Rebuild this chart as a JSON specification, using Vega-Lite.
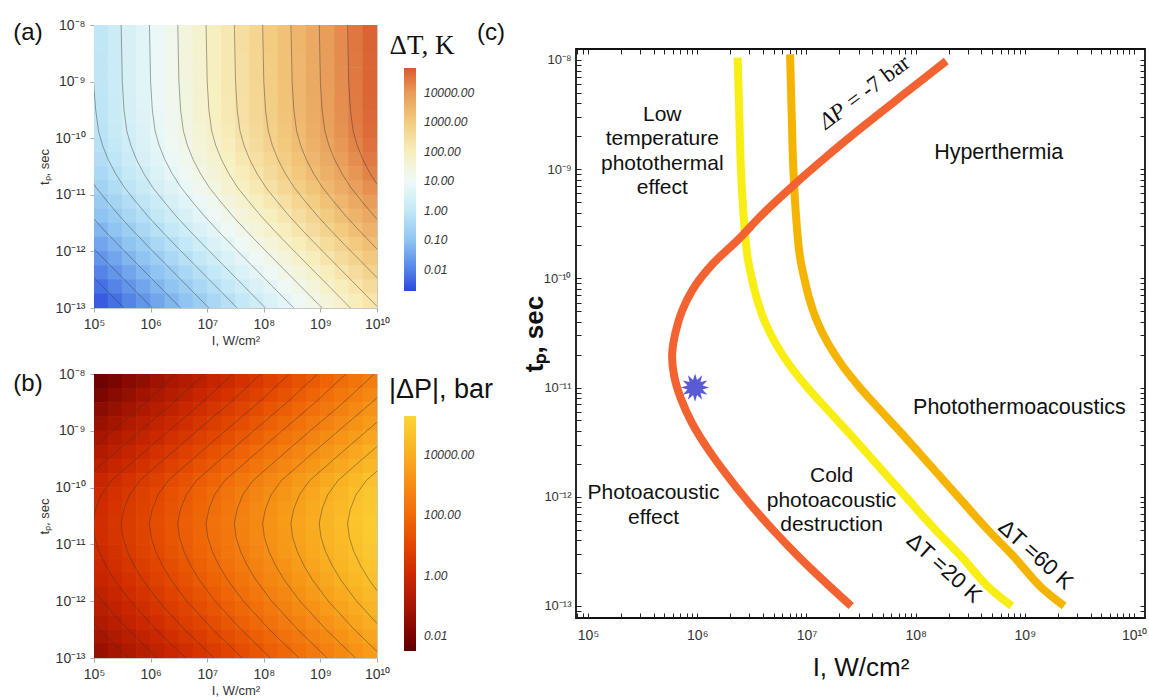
{
"$schema":"https://vega.github.io/schema/vega-lite/v6.json",
"padding":{"left":12,"top":17,"right":0,"bottom":0},
"spacing":14,
"config":{"font":"Liberation Sans","view":{"stroke":null},"axis":{"grid":false,"labelFont":"Liberation Sans","titleFont":"Liberation Sans","labelOverlap":false,"labelFlush":false,"labelBound":false}},
"datasets":{
"hT":[
{"x":5.125,"y":-8.125,"v":-0.035},{"x":5.375,"y":-8.125,"v":0.215},{"x":5.625,"y":-8.125,"v":0.465},{"x":5.875,"y":-8.125,"v":0.715},{"x":6.125,"y":-8.125,"v":0.965},{"x":6.375,"y":-8.125,"v":1.215},{"x":6.625,"y":-8.125,"v":1.465},{"x":6.875,"y":-8.125,"v":1.715},{"x":7.125,"y":-8.125,"v":1.965},{"x":7.375,"y":-8.125,"v":2.215},{"x":7.625,"y":-8.125,"v":2.465},{"x":7.875,"y":-8.125,"v":2.715},{"x":8.125,"y":-8.125,"v":2.965},{"x":8.375,"y":-8.125,"v":3.215},{"x":8.625,"y":-8.125,"v":3.465},{"x":8.875,"y":-8.125,"v":3.715},{"x":9.125,"y":-8.125,"v":3.965},{"x":9.375,"y":-8.125,"v":4.215},{"x":9.625,"y":-8.125,"v":4.465},{"x":9.875,"y":-8.125,"v":4.715},
{"x":5.125,"y":-8.375,"v":-0.035},{"x":5.375,"y":-8.375,"v":0.215},{"x":5.625,"y":-8.375,"v":0.465},{"x":5.875,"y":-8.375,"v":0.715},{"x":6.125,"y":-8.375,"v":0.965},{"x":6.375,"y":-8.375,"v":1.215},{"x":6.625,"y":-8.375,"v":1.465},{"x":6.875,"y":-8.375,"v":1.715},{"x":7.125,"y":-8.375,"v":1.965},{"x":7.375,"y":-8.375,"v":2.215},{"x":7.625,"y":-8.375,"v":2.465},{"x":7.875,"y":-8.375,"v":2.715},{"x":8.125,"y":-8.375,"v":2.965},{"x":8.375,"y":-8.375,"v":3.215},{"x":8.625,"y":-8.375,"v":3.465},{"x":8.875,"y":-8.375,"v":3.715},{"x":9.125,"y":-8.375,"v":3.965},{"x":9.375,"y":-8.375,"v":4.215},{"x":9.625,"y":-8.375,"v":4.465},{"x":9.875,"y":-8.375,"v":4.715},
{"x":5.125,"y":-8.625,"v":-0.045},{"x":5.375,"y":-8.625,"v":0.205},{"x":5.625,"y":-8.625,"v":0.455},{"x":5.875,"y":-8.625,"v":0.705},{"x":6.125,"y":-8.625,"v":0.955},{"x":6.375,"y":-8.625,"v":1.205},{"x":6.625,"y":-8.625,"v":1.455},{"x":6.875,"y":-8.625,"v":1.705},{"x":7.125,"y":-8.625,"v":1.955},{"x":7.375,"y":-8.625,"v":2.205},{"x":7.625,"y":-8.625,"v":2.455},{"x":7.875,"y":-8.625,"v":2.705},{"x":8.125,"y":-8.625,"v":2.955},{"x":8.375,"y":-8.625,"v":3.205},{"x":8.625,"y":-8.625,"v":3.455},{"x":8.875,"y":-8.625,"v":3.705},{"x":9.125,"y":-8.625,"v":3.955},{"x":9.375,"y":-8.625,"v":4.205},{"x":9.625,"y":-8.625,"v":4.455},{"x":9.875,"y":-8.625,"v":4.705},
{"x":5.125,"y":-8.875,"v":-0.045},{"x":5.375,"y":-8.875,"v":0.205},{"x":5.625,"y":-8.875,"v":0.455},{"x":5.875,"y":-8.875,"v":0.705},{"x":6.125,"y":-8.875,"v":0.955},{"x":6.375,"y":-8.875,"v":1.205},{"x":6.625,"y":-8.875,"v":1.455},{"x":6.875,"y":-8.875,"v":1.705},{"x":7.125,"y":-8.875,"v":1.955},{"x":7.375,"y":-8.875,"v":2.205},{"x":7.625,"y":-8.875,"v":2.455},{"x":7.875,"y":-8.875,"v":2.705},{"x":8.125,"y":-8.875,"v":2.955},{"x":8.375,"y":-8.875,"v":3.205},{"x":8.625,"y":-8.875,"v":3.455},{"x":8.875,"y":-8.875,"v":3.705},{"x":9.125,"y":-8.875,"v":3.955},{"x":9.375,"y":-8.875,"v":4.205},{"x":9.625,"y":-8.875,"v":4.455},{"x":9.875,"y":-8.875,"v":4.705},
{"x":5.125,"y":-9.125,"v":-0.055},{"x":5.375,"y":-9.125,"v":0.195},{"x":5.625,"y":-9.125,"v":0.445},{"x":5.875,"y":-9.125,"v":0.695},{"x":6.125,"y":-9.125,"v":0.945},{"x":6.375,"y":-9.125,"v":1.195},{"x":6.625,"y":-9.125,"v":1.445},{"x":6.875,"y":-9.125,"v":1.695},{"x":7.125,"y":-9.125,"v":1.945},{"x":7.375,"y":-9.125,"v":2.195},{"x":7.625,"y":-9.125,"v":2.445},{"x":7.875,"y":-9.125,"v":2.695},{"x":8.125,"y":-9.125,"v":2.945},{"x":8.375,"y":-9.125,"v":3.195},{"x":8.625,"y":-9.125,"v":3.445},{"x":8.875,"y":-9.125,"v":3.695},{"x":9.125,"y":-9.125,"v":3.945},{"x":9.375,"y":-9.125,"v":4.195},{"x":9.625,"y":-9.125,"v":4.445},{"x":9.875,"y":-9.125,"v":4.695},
{"x":5.125,"y":-9.375,"v":-0.075},{"x":5.375,"y":-9.375,"v":0.175},{"x":5.625,"y":-9.375,"v":0.425},{"x":5.875,"y":-9.375,"v":0.675},{"x":6.125,"y":-9.375,"v":0.925},{"x":6.375,"y":-9.375,"v":1.175},{"x":6.625,"y":-9.375,"v":1.425},{"x":6.875,"y":-9.375,"v":1.675},{"x":7.125,"y":-9.375,"v":1.925},{"x":7.375,"y":-9.375,"v":2.175},{"x":7.625,"y":-9.375,"v":2.425},{"x":7.875,"y":-9.375,"v":2.675},{"x":8.125,"y":-9.375,"v":2.925},{"x":8.375,"y":-9.375,"v":3.175},{"x":8.625,"y":-9.375,"v":3.425},{"x":8.875,"y":-9.375,"v":3.675},{"x":9.125,"y":-9.375,"v":3.925},{"x":9.375,"y":-9.375,"v":4.175},{"x":9.625,"y":-9.375,"v":4.425},{"x":9.875,"y":-9.375,"v":4.675},
{"x":5.125,"y":-9.625,"v":-0.095},{"x":5.375,"y":-9.625,"v":0.155},{"x":5.625,"y":-9.625,"v":0.405},{"x":5.875,"y":-9.625,"v":0.655},{"x":6.125,"y":-9.625,"v":0.905},{"x":6.375,"y":-9.625,"v":1.155},{"x":6.625,"y":-9.625,"v":1.405},{"x":6.875,"y":-9.625,"v":1.655},{"x":7.125,"y":-9.625,"v":1.905},{"x":7.375,"y":-9.625,"v":2.155},{"x":7.625,"y":-9.625,"v":2.405},{"x":7.875,"y":-9.625,"v":2.655},{"x":8.125,"y":-9.625,"v":2.905},{"x":8.375,"y":-9.625,"v":3.155},{"x":8.625,"y":-9.625,"v":3.405},{"x":8.875,"y":-9.625,"v":3.655},{"x":9.125,"y":-9.625,"v":3.905},{"x":9.375,"y":-9.625,"v":4.155},{"x":9.625,"y":-9.625,"v":4.405},{"x":9.875,"y":-9.625,"v":4.655},
{"x":5.125,"y":-9.875,"v":-0.135},{"x":5.375,"y":-9.875,"v":0.115},{"x":5.625,"y":-9.875,"v":0.365},{"x":5.875,"y":-9.875,"v":0.615},{"x":6.125,"y":-9.875,"v":0.865},{"x":6.375,"y":-9.875,"v":1.115},{"x":6.625,"y":-9.875,"v":1.365},{"x":6.875,"y":-9.875,"v":1.615},{"x":7.125,"y":-9.875,"v":1.865},{"x":7.375,"y":-9.875,"v":2.115},{"x":7.625,"y":-9.875,"v":2.365},{"x":7.875,"y":-9.875,"v":2.615},{"x":8.125,"y":-9.875,"v":2.865},{"x":8.375,"y":-9.875,"v":3.115},{"x":8.625,"y":-9.875,"v":3.365},{"x":8.875,"y":-9.875,"v":3.615},{"x":9.125,"y":-9.875,"v":3.865},{"x":9.375,"y":-9.875,"v":4.115},{"x":9.625,"y":-9.875,"v":4.365},{"x":9.875,"y":-9.875,"v":4.615},
{"x":5.125,"y":-10.125,"v":-0.205},{"x":5.375,"y":-10.125,"v":0.045},{"x":5.625,"y":-10.125,"v":0.295},{"x":5.875,"y":-10.125,"v":0.545},{"x":6.125,"y":-10.125,"v":0.795},{"x":6.375,"y":-10.125,"v":1.045},{"x":6.625,"y":-10.125,"v":1.295},{"x":6.875,"y":-10.125,"v":1.545},{"x":7.125,"y":-10.125,"v":1.795},{"x":7.375,"y":-10.125,"v":2.045},{"x":7.625,"y":-10.125,"v":2.295},{"x":7.875,"y":-10.125,"v":2.545},{"x":8.125,"y":-10.125,"v":2.795},{"x":8.375,"y":-10.125,"v":3.045},{"x":8.625,"y":-10.125,"v":3.295},{"x":8.875,"y":-10.125,"v":3.545},{"x":9.125,"y":-10.125,"v":3.795},{"x":9.375,"y":-10.125,"v":4.045},{"x":9.625,"y":-10.125,"v":4.295},{"x":9.875,"y":-10.125,"v":4.545},
{"x":5.125,"y":-10.375,"v":-0.305},{"x":5.375,"y":-10.375,"v":-0.055},{"x":5.625,"y":-10.375,"v":0.195},{"x":5.875,"y":-10.375,"v":0.445},{"x":6.125,"y":-10.375,"v":0.695},{"x":6.375,"y":-10.375,"v":0.945},{"x":6.625,"y":-10.375,"v":1.195},{"x":6.875,"y":-10.375,"v":1.445},{"x":7.125,"y":-10.375,"v":1.695},{"x":7.375,"y":-10.375,"v":1.945},{"x":7.625,"y":-10.375,"v":2.195},{"x":7.875,"y":-10.375,"v":2.445},{"x":8.125,"y":-10.375,"v":2.695},{"x":8.375,"y":-10.375,"v":2.945},{"x":8.625,"y":-10.375,"v":3.195},{"x":8.875,"y":-10.375,"v":3.445},{"x":9.125,"y":-10.375,"v":3.695},{"x":9.375,"y":-10.375,"v":3.945},{"x":9.625,"y":-10.375,"v":4.195},{"x":9.875,"y":-10.375,"v":4.445},
{"x":5.125,"y":-10.625,"v":-0.435},{"x":5.375,"y":-10.625,"v":-0.185},{"x":5.625,"y":-10.625,"v":0.065},{"x":5.875,"y":-10.625,"v":0.315},{"x":6.125,"y":-10.625,"v":0.565},{"x":6.375,"y":-10.625,"v":0.815},{"x":6.625,"y":-10.625,"v":1.065},{"x":6.875,"y":-10.625,"v":1.315},{"x":7.125,"y":-10.625,"v":1.565},{"x":7.375,"y":-10.625,"v":1.815},{"x":7.625,"y":-10.625,"v":2.065},{"x":7.875,"y":-10.625,"v":2.315},{"x":8.125,"y":-10.625,"v":2.565},{"x":8.375,"y":-10.625,"v":2.815},{"x":8.625,"y":-10.625,"v":3.065},{"x":8.875,"y":-10.625,"v":3.315},{"x":9.125,"y":-10.625,"v":3.565},{"x":9.375,"y":-10.625,"v":3.815},{"x":9.625,"y":-10.625,"v":4.065},{"x":9.875,"y":-10.625,"v":4.315},
{"x":5.125,"y":-10.875,"v":-0.595},{"x":5.375,"y":-10.875,"v":-0.345},{"x":5.625,"y":-10.875,"v":-0.095},{"x":5.875,"y":-10.875,"v":0.155},{"x":6.125,"y":-10.875,"v":0.405},{"x":6.375,"y":-10.875,"v":0.655},{"x":6.625,"y":-10.875,"v":0.905},{"x":6.875,"y":-10.875,"v":1.155},{"x":7.125,"y":-10.875,"v":1.405},{"x":7.375,"y":-10.875,"v":1.655},{"x":7.625,"y":-10.875,"v":1.905},{"x":7.875,"y":-10.875,"v":2.155},{"x":8.125,"y":-10.875,"v":2.405},{"x":8.375,"y":-10.875,"v":2.655},{"x":8.625,"y":-10.875,"v":2.905},{"x":8.875,"y":-10.875,"v":3.155},{"x":9.125,"y":-10.875,"v":3.405},{"x":9.375,"y":-10.875,"v":3.655},{"x":9.625,"y":-10.875,"v":3.905},{"x":9.875,"y":-10.875,"v":4.155},
{"x":5.125,"y":-11.125,"v":-0.795},{"x":5.375,"y":-11.125,"v":-0.545},{"x":5.625,"y":-11.125,"v":-0.295},{"x":5.875,"y":-11.125,"v":-0.045},{"x":6.125,"y":-11.125,"v":0.205},{"x":6.375,"y":-11.125,"v":0.455},{"x":6.625,"y":-11.125,"v":0.705},{"x":6.875,"y":-11.125,"v":0.955},{"x":7.125,"y":-11.125,"v":1.205},{"x":7.375,"y":-11.125,"v":1.455},{"x":7.625,"y":-11.125,"v":1.705},{"x":7.875,"y":-11.125,"v":1.955},{"x":8.125,"y":-11.125,"v":2.205},{"x":8.375,"y":-11.125,"v":2.455},{"x":8.625,"y":-11.125,"v":2.705},{"x":8.875,"y":-11.125,"v":2.955},{"x":9.125,"y":-11.125,"v":3.205},{"x":9.375,"y":-11.125,"v":3.455},{"x":9.625,"y":-11.125,"v":3.705},{"x":9.875,"y":-11.125,"v":3.955},
{"x":5.125,"y":-11.375,"v":-1.005},{"x":5.375,"y":-11.375,"v":-0.755},{"x":5.625,"y":-11.375,"v":-0.505},{"x":5.875,"y":-11.375,"v":-0.255},{"x":6.125,"y":-11.375,"v":-0.005},{"x":6.375,"y":-11.375,"v":0.245},{"x":6.625,"y":-11.375,"v":0.495},{"x":6.875,"y":-11.375,"v":0.745},{"x":7.125,"y":-11.375,"v":0.995},{"x":7.375,"y":-11.375,"v":1.245},{"x":7.625,"y":-11.375,"v":1.495},{"x":7.875,"y":-11.375,"v":1.745},{"x":8.125,"y":-11.375,"v":1.995},{"x":8.375,"y":-11.375,"v":2.245},{"x":8.625,"y":-11.375,"v":2.495},{"x":8.875,"y":-11.375,"v":2.745},{"x":9.125,"y":-11.375,"v":2.995},{"x":9.375,"y":-11.375,"v":3.245},{"x":9.625,"y":-11.375,"v":3.495},{"x":9.875,"y":-11.375,"v":3.745},
{"x":5.125,"y":-11.625,"v":-1.235},{"x":5.375,"y":-11.625,"v":-0.985},{"x":5.625,"y":-11.625,"v":-0.735},{"x":5.875,"y":-11.625,"v":-0.485},{"x":6.125,"y":-11.625,"v":-0.235},{"x":6.375,"y":-11.625,"v":0.015},{"x":6.625,"y":-11.625,"v":0.265},{"x":6.875,"y":-11.625,"v":0.515},{"x":7.125,"y":-11.625,"v":0.765},{"x":7.375,"y":-11.625,"v":1.015},{"x":7.625,"y":-11.625,"v":1.265},{"x":7.875,"y":-11.625,"v":1.515},{"x":8.125,"y":-11.625,"v":1.765},{"x":8.375,"y":-11.625,"v":2.015},{"x":8.625,"y":-11.625,"v":2.265},{"x":8.875,"y":-11.625,"v":2.515},{"x":9.125,"y":-11.625,"v":2.765},{"x":9.375,"y":-11.625,"v":3.015},{"x":9.625,"y":-11.625,"v":3.265},{"x":9.875,"y":-11.625,"v":3.515},
{"x":5.125,"y":-11.875,"v":-1.475},{"x":5.375,"y":-11.875,"v":-1.225},{"x":5.625,"y":-11.875,"v":-0.975},{"x":5.875,"y":-11.875,"v":-0.725},{"x":6.125,"y":-11.875,"v":-0.475},{"x":6.375,"y":-11.875,"v":-0.225},{"x":6.625,"y":-11.875,"v":0.025},{"x":6.875,"y":-11.875,"v":0.275},{"x":7.125,"y":-11.875,"v":0.525},{"x":7.375,"y":-11.875,"v":0.775},{"x":7.625,"y":-11.875,"v":1.025},{"x":7.875,"y":-11.875,"v":1.275},{"x":8.125,"y":-11.875,"v":1.525},{"x":8.375,"y":-11.875,"v":1.775},{"x":8.625,"y":-11.875,"v":2.025},{"x":8.875,"y":-11.875,"v":2.275},{"x":9.125,"y":-11.875,"v":2.525},{"x":9.375,"y":-11.875,"v":2.775},{"x":9.625,"y":-11.875,"v":3.025},{"x":9.875,"y":-11.875,"v":3.275},
{"x":5.125,"y":-12.125,"v":-1.715},{"x":5.375,"y":-12.125,"v":-1.465},{"x":5.625,"y":-12.125,"v":-1.215},{"x":5.875,"y":-12.125,"v":-0.965},{"x":6.125,"y":-12.125,"v":-0.715},{"x":6.375,"y":-12.125,"v":-0.465},{"x":6.625,"y":-12.125,"v":-0.215},{"x":6.875,"y":-12.125,"v":0.035},{"x":7.125,"y":-12.125,"v":0.285},{"x":7.375,"y":-12.125,"v":0.535},{"x":7.625,"y":-12.125,"v":0.785},{"x":7.875,"y":-12.125,"v":1.035},{"x":8.125,"y":-12.125,"v":1.285},{"x":8.375,"y":-12.125,"v":1.535},{"x":8.625,"y":-12.125,"v":1.785},{"x":8.875,"y":-12.125,"v":2.035},{"x":9.125,"y":-12.125,"v":2.285},{"x":9.375,"y":-12.125,"v":2.535},{"x":9.625,"y":-12.125,"v":2.785},{"x":9.875,"y":-12.125,"v":3.035},
{"x":5.125,"y":-12.375,"v":-1.965},{"x":5.375,"y":-12.375,"v":-1.715},{"x":5.625,"y":-12.375,"v":-1.465},{"x":5.875,"y":-12.375,"v":-1.215},{"x":6.125,"y":-12.375,"v":-0.965},{"x":6.375,"y":-12.375,"v":-0.715},{"x":6.625,"y":-12.375,"v":-0.465},{"x":6.875,"y":-12.375,"v":-0.215},{"x":7.125,"y":-12.375,"v":0.035},{"x":7.375,"y":-12.375,"v":0.285},{"x":7.625,"y":-12.375,"v":0.535},{"x":7.875,"y":-12.375,"v":0.785},{"x":8.125,"y":-12.375,"v":1.035},{"x":8.375,"y":-12.375,"v":1.285},{"x":8.625,"y":-12.375,"v":1.535},{"x":8.875,"y":-12.375,"v":1.785},{"x":9.125,"y":-12.375,"v":2.035},{"x":9.375,"y":-12.375,"v":2.285},{"x":9.625,"y":-12.375,"v":2.535},{"x":9.875,"y":-12.375,"v":2.785},
{"x":5.125,"y":-12.625,"v":-2.215},{"x":5.375,"y":-12.625,"v":-1.965},{"x":5.625,"y":-12.625,"v":-1.715},{"x":5.875,"y":-12.625,"v":-1.465},{"x":6.125,"y":-12.625,"v":-1.215},{"x":6.375,"y":-12.625,"v":-0.965},{"x":6.625,"y":-12.625,"v":-0.715},{"x":6.875,"y":-12.625,"v":-0.465},{"x":7.125,"y":-12.625,"v":-0.215},{"x":7.375,"y":-12.625,"v":0.035},{"x":7.625,"y":-12.625,"v":0.285},{"x":7.875,"y":-12.625,"v":0.535},{"x":8.125,"y":-12.625,"v":0.785},{"x":8.375,"y":-12.625,"v":1.035},{"x":8.625,"y":-12.625,"v":1.285},{"x":8.875,"y":-12.625,"v":1.535},{"x":9.125,"y":-12.625,"v":1.785},{"x":9.375,"y":-12.625,"v":2.035},{"x":9.625,"y":-12.625,"v":2.285},{"x":9.875,"y":-12.625,"v":2.535},
{"x":5.125,"y":-12.875,"v":-2.465},{"x":5.375,"y":-12.875,"v":-2.215},{"x":5.625,"y":-12.875,"v":-1.965},{"x":5.875,"y":-12.875,"v":-1.715},{"x":6.125,"y":-12.875,"v":-1.465},{"x":6.375,"y":-12.875,"v":-1.215},{"x":6.625,"y":-12.875,"v":-0.965},{"x":6.875,"y":-12.875,"v":-0.715},{"x":7.125,"y":-12.875,"v":-0.465},{"x":7.375,"y":-12.875,"v":-0.215},{"x":7.625,"y":-12.875,"v":0.035},{"x":7.875,"y":-12.875,"v":0.285},{"x":8.125,"y":-12.875,"v":0.535},{"x":8.375,"y":-12.875,"v":0.785},{"x":8.625,"y":-12.875,"v":1.035},{"x":8.875,"y":-12.875,"v":1.285},{"x":9.125,"y":-12.875,"v":1.535},{"x":9.375,"y":-12.875,"v":1.785},{"x":9.625,"y":-12.875,"v":2.035},{"x":9.875,"y":-12.875,"v":2.285}
],
"hP":[
{"x":5.125,"y":-8.125,"v":-2.17},{"x":5.375,"y":-8.125,"v":-1.92},{"x":5.625,"y":-8.125,"v":-1.67},{"x":5.875,"y":-8.125,"v":-1.42},{"x":6.125,"y":-8.125,"v":-1.17},{"x":6.375,"y":-8.125,"v":-0.92},{"x":6.625,"y":-8.125,"v":-0.67},{"x":6.875,"y":-8.125,"v":-0.42},{"x":7.125,"y":-8.125,"v":-0.17},{"x":7.375,"y":-8.125,"v":0.08},{"x":7.625,"y":-8.125,"v":0.33},{"x":7.875,"y":-8.125,"v":0.58},{"x":8.125,"y":-8.125,"v":0.83},{"x":8.375,"y":-8.125,"v":1.08},{"x":8.625,"y":-8.125,"v":1.33},{"x":8.875,"y":-8.125,"v":1.58},{"x":9.125,"y":-8.125,"v":1.83},{"x":9.375,"y":-8.125,"v":2.08},{"x":9.625,"y":-8.125,"v":2.33},{"x":9.875,"y":-8.125,"v":2.58},
{"x":5.125,"y":-8.375,"v":-1.88},{"x":5.375,"y":-8.375,"v":-1.63},{"x":5.625,"y":-8.375,"v":-1.38},{"x":5.875,"y":-8.375,"v":-1.13},{"x":6.125,"y":-8.375,"v":-0.88},{"x":6.375,"y":-8.375,"v":-0.63},{"x":6.625,"y":-8.375,"v":-0.38},{"x":6.875,"y":-8.375,"v":-0.13},{"x":7.125,"y":-8.375,"v":0.12},{"x":7.375,"y":-8.375,"v":0.37},{"x":7.625,"y":-8.375,"v":0.62},{"x":7.875,"y":-8.375,"v":0.87},{"x":8.125,"y":-8.375,"v":1.12},{"x":8.375,"y":-8.375,"v":1.37},{"x":8.625,"y":-8.375,"v":1.62},{"x":8.875,"y":-8.375,"v":1.87},{"x":9.125,"y":-8.375,"v":2.12},{"x":9.375,"y":-8.375,"v":2.37},{"x":9.625,"y":-8.375,"v":2.62},{"x":9.875,"y":-8.375,"v":2.87},
{"x":5.125,"y":-8.625,"v":-1.58},{"x":5.375,"y":-8.625,"v":-1.33},{"x":5.625,"y":-8.625,"v":-1.08},{"x":5.875,"y":-8.625,"v":-0.83},{"x":6.125,"y":-8.625,"v":-0.58},{"x":6.375,"y":-8.625,"v":-0.33},{"x":6.625,"y":-8.625,"v":-0.08},{"x":6.875,"y":-8.625,"v":0.17},{"x":7.125,"y":-8.625,"v":0.42},{"x":7.375,"y":-8.625,"v":0.67},{"x":7.625,"y":-8.625,"v":0.92},{"x":7.875,"y":-8.625,"v":1.17},{"x":8.125,"y":-8.625,"v":1.42},{"x":8.375,"y":-8.625,"v":1.67},{"x":8.625,"y":-8.625,"v":1.92},{"x":8.875,"y":-8.625,"v":2.17},{"x":9.125,"y":-8.625,"v":2.42},{"x":9.375,"y":-8.625,"v":2.67},{"x":9.625,"y":-8.625,"v":2.92},{"x":9.875,"y":-8.625,"v":3.17},
{"x":5.125,"y":-8.875,"v":-1.29},{"x":5.375,"y":-8.875,"v":-1.04},{"x":5.625,"y":-8.875,"v":-0.79},{"x":5.875,"y":-8.875,"v":-0.54},{"x":6.125,"y":-8.875,"v":-0.29},{"x":6.375,"y":-8.875,"v":-0.04},{"x":6.625,"y":-8.875,"v":0.21},{"x":6.875,"y":-8.875,"v":0.46},{"x":7.125,"y":-8.875,"v":0.71},{"x":7.375,"y":-8.875,"v":0.96},{"x":7.625,"y":-8.875,"v":1.21},{"x":7.875,"y":-8.875,"v":1.46},{"x":8.125,"y":-8.875,"v":1.71},{"x":8.375,"y":-8.875,"v":1.96},{"x":8.625,"y":-8.875,"v":2.21},{"x":8.875,"y":-8.875,"v":2.46},{"x":9.125,"y":-8.875,"v":2.71},{"x":9.375,"y":-8.875,"v":2.96},{"x":9.625,"y":-8.875,"v":3.21},{"x":9.875,"y":-8.875,"v":3.46},
{"x":5.125,"y":-9.125,"v":-0.99},{"x":5.375,"y":-9.125,"v":-0.74},{"x":5.625,"y":-9.125,"v":-0.49},{"x":5.875,"y":-9.125,"v":-0.24},{"x":6.125,"y":-9.125,"v":0.01},{"x":6.375,"y":-9.125,"v":0.26},{"x":6.625,"y":-9.125,"v":0.51},{"x":6.875,"y":-9.125,"v":0.76},{"x":7.125,"y":-9.125,"v":1.01},{"x":7.375,"y":-9.125,"v":1.26},{"x":7.625,"y":-9.125,"v":1.51},{"x":7.875,"y":-9.125,"v":1.76},{"x":8.125,"y":-9.125,"v":2.01},{"x":8.375,"y":-9.125,"v":2.26},{"x":8.625,"y":-9.125,"v":2.51},{"x":8.875,"y":-9.125,"v":2.76},{"x":9.125,"y":-9.125,"v":3.01},{"x":9.375,"y":-9.125,"v":3.26},{"x":9.625,"y":-9.125,"v":3.51},{"x":9.875,"y":-9.125,"v":3.76},
{"x":5.125,"y":-9.375,"v":-0.7},{"x":5.375,"y":-9.375,"v":-0.45},{"x":5.625,"y":-9.375,"v":-0.2},{"x":5.875,"y":-9.375,"v":0.05},{"x":6.125,"y":-9.375,"v":0.3},{"x":6.375,"y":-9.375,"v":0.55},{"x":6.625,"y":-9.375,"v":0.8},{"x":6.875,"y":-9.375,"v":1.05},{"x":7.125,"y":-9.375,"v":1.3},{"x":7.375,"y":-9.375,"v":1.55},{"x":7.625,"y":-9.375,"v":1.8},{"x":7.875,"y":-9.375,"v":2.05},{"x":8.125,"y":-9.375,"v":2.3},{"x":8.375,"y":-9.375,"v":2.55},{"x":8.625,"y":-9.375,"v":2.8},{"x":8.875,"y":-9.375,"v":3.05},{"x":9.125,"y":-9.375,"v":3.3},{"x":9.375,"y":-9.375,"v":3.55},{"x":9.625,"y":-9.375,"v":3.8},{"x":9.875,"y":-9.375,"v":4.05},
{"x":5.125,"y":-9.625,"v":-0.42},{"x":5.375,"y":-9.625,"v":-0.17},{"x":5.625,"y":-9.625,"v":0.08},{"x":5.875,"y":-9.625,"v":0.33},{"x":6.125,"y":-9.625,"v":0.58},{"x":6.375,"y":-9.625,"v":0.83},{"x":6.625,"y":-9.625,"v":1.08},{"x":6.875,"y":-9.625,"v":1.33},{"x":7.125,"y":-9.625,"v":1.58},{"x":7.375,"y":-9.625,"v":1.83},{"x":7.625,"y":-9.625,"v":2.08},{"x":7.875,"y":-9.625,"v":2.33},{"x":8.125,"y":-9.625,"v":2.58},{"x":8.375,"y":-9.625,"v":2.83},{"x":8.625,"y":-9.625,"v":3.08},{"x":8.875,"y":-9.625,"v":3.33},{"x":9.125,"y":-9.625,"v":3.58},{"x":9.375,"y":-9.625,"v":3.83},{"x":9.625,"y":-9.625,"v":4.08},{"x":9.875,"y":-9.625,"v":4.33},
{"x":5.125,"y":-9.875,"v":-0.13},{"x":5.375,"y":-9.875,"v":0.12},{"x":5.625,"y":-9.875,"v":0.37},{"x":5.875,"y":-9.875,"v":0.62},{"x":6.125,"y":-9.875,"v":0.87},{"x":6.375,"y":-9.875,"v":1.12},{"x":6.625,"y":-9.875,"v":1.37},{"x":6.875,"y":-9.875,"v":1.62},{"x":7.125,"y":-9.875,"v":1.87},{"x":7.375,"y":-9.875,"v":2.12},{"x":7.625,"y":-9.875,"v":2.37},{"x":7.875,"y":-9.875,"v":2.62},{"x":8.125,"y":-9.875,"v":2.87},{"x":8.375,"y":-9.875,"v":3.12},{"x":8.625,"y":-9.875,"v":3.37},{"x":8.875,"y":-9.875,"v":3.62},{"x":9.125,"y":-9.875,"v":3.87},{"x":9.375,"y":-9.875,"v":4.12},{"x":9.625,"y":-9.875,"v":4.37},{"x":9.875,"y":-9.875,"v":4.62},
{"x":5.125,"y":-10.125,"v":0.05},{"x":5.375,"y":-10.125,"v":0.3},{"x":5.625,"y":-10.125,"v":0.55},{"x":5.875,"y":-10.125,"v":0.8},{"x":6.125,"y":-10.125,"v":1.05},{"x":6.375,"y":-10.125,"v":1.3},{"x":6.625,"y":-10.125,"v":1.55},{"x":6.875,"y":-10.125,"v":1.8},{"x":7.125,"y":-10.125,"v":2.05},{"x":7.375,"y":-10.125,"v":2.3},{"x":7.625,"y":-10.125,"v":2.55},{"x":7.875,"y":-10.125,"v":2.8},{"x":8.125,"y":-10.125,"v":3.05},{"x":8.375,"y":-10.125,"v":3.3},{"x":8.625,"y":-10.125,"v":3.55},{"x":8.875,"y":-10.125,"v":3.8},{"x":9.125,"y":-10.125,"v":4.05},{"x":9.375,"y":-10.125,"v":4.3},{"x":9.625,"y":-10.125,"v":4.55},{"x":9.875,"y":-10.125,"v":4.8},
{"x":5.125,"y":-10.375,"v":0.15},{"x":5.375,"y":-10.375,"v":0.4},{"x":5.625,"y":-10.375,"v":0.65},{"x":5.875,"y":-10.375,"v":0.9},{"x":6.125,"y":-10.375,"v":1.15},{"x":6.375,"y":-10.375,"v":1.4},{"x":6.625,"y":-10.375,"v":1.65},{"x":6.875,"y":-10.375,"v":1.9},{"x":7.125,"y":-10.375,"v":2.15},{"x":7.375,"y":-10.375,"v":2.4},{"x":7.625,"y":-10.375,"v":2.65},{"x":7.875,"y":-10.375,"v":2.9},{"x":8.125,"y":-10.375,"v":3.15},{"x":8.375,"y":-10.375,"v":3.4},{"x":8.625,"y":-10.375,"v":3.65},{"x":8.875,"y":-10.375,"v":3.9},{"x":9.125,"y":-10.375,"v":4.15},{"x":9.375,"y":-10.375,"v":4.4},{"x":9.625,"y":-10.375,"v":4.65},{"x":9.875,"y":-10.375,"v":4.9},
{"x":5.125,"y":-10.625,"v":0.2},{"x":5.375,"y":-10.625,"v":0.45},{"x":5.625,"y":-10.625,"v":0.7},{"x":5.875,"y":-10.625,"v":0.95},{"x":6.125,"y":-10.625,"v":1.2},{"x":6.375,"y":-10.625,"v":1.45},{"x":6.625,"y":-10.625,"v":1.7},{"x":6.875,"y":-10.625,"v":1.95},{"x":7.125,"y":-10.625,"v":2.2},{"x":7.375,"y":-10.625,"v":2.45},{"x":7.625,"y":-10.625,"v":2.7},{"x":7.875,"y":-10.625,"v":2.95},{"x":8.125,"y":-10.625,"v":3.2},{"x":8.375,"y":-10.625,"v":3.45},{"x":8.625,"y":-10.625,"v":3.7},{"x":8.875,"y":-10.625,"v":3.95},{"x":9.125,"y":-10.625,"v":4.2},{"x":9.375,"y":-10.625,"v":4.45},{"x":9.625,"y":-10.625,"v":4.7},{"x":9.875,"y":-10.625,"v":4.95},
{"x":5.125,"y":-10.875,"v":0.17},{"x":5.375,"y":-10.875,"v":0.42},{"x":5.625,"y":-10.875,"v":0.67},{"x":5.875,"y":-10.875,"v":0.92},{"x":6.125,"y":-10.875,"v":1.17},{"x":6.375,"y":-10.875,"v":1.42},{"x":6.625,"y":-10.875,"v":1.67},{"x":6.875,"y":-10.875,"v":1.92},{"x":7.125,"y":-10.875,"v":2.17},{"x":7.375,"y":-10.875,"v":2.42},{"x":7.625,"y":-10.875,"v":2.67},{"x":7.875,"y":-10.875,"v":2.92},{"x":8.125,"y":-10.875,"v":3.17},{"x":8.375,"y":-10.875,"v":3.42},{"x":8.625,"y":-10.875,"v":3.67},{"x":8.875,"y":-10.875,"v":3.92},{"x":9.125,"y":-10.875,"v":4.17},{"x":9.375,"y":-10.875,"v":4.42},{"x":9.625,"y":-10.875,"v":4.67},{"x":9.875,"y":-10.875,"v":4.92},
{"x":5.125,"y":-11.125,"v":0.09},{"x":5.375,"y":-11.125,"v":0.34},{"x":5.625,"y":-11.125,"v":0.59},{"x":5.875,"y":-11.125,"v":0.84},{"x":6.125,"y":-11.125,"v":1.09},{"x":6.375,"y":-11.125,"v":1.34},{"x":6.625,"y":-11.125,"v":1.59},{"x":6.875,"y":-11.125,"v":1.84},{"x":7.125,"y":-11.125,"v":2.09},{"x":7.375,"y":-11.125,"v":2.34},{"x":7.625,"y":-11.125,"v":2.59},{"x":7.875,"y":-11.125,"v":2.84},{"x":8.125,"y":-11.125,"v":3.09},{"x":8.375,"y":-11.125,"v":3.34},{"x":8.625,"y":-11.125,"v":3.59},{"x":8.875,"y":-11.125,"v":3.84},{"x":9.125,"y":-11.125,"v":4.09},{"x":9.375,"y":-11.125,"v":4.34},{"x":9.625,"y":-11.125,"v":4.59},{"x":9.875,"y":-11.125,"v":4.84},
{"x":5.125,"y":-11.375,"v":-0.03},{"x":5.375,"y":-11.375,"v":0.22},{"x":5.625,"y":-11.375,"v":0.47},{"x":5.875,"y":-11.375,"v":0.72},{"x":6.125,"y":-11.375,"v":0.97},{"x":6.375,"y":-11.375,"v":1.22},{"x":6.625,"y":-11.375,"v":1.47},{"x":6.875,"y":-11.375,"v":1.72},{"x":7.125,"y":-11.375,"v":1.97},{"x":7.375,"y":-11.375,"v":2.22},{"x":7.625,"y":-11.375,"v":2.47},{"x":7.875,"y":-11.375,"v":2.72},{"x":8.125,"y":-11.375,"v":2.97},{"x":8.375,"y":-11.375,"v":3.22},{"x":8.625,"y":-11.375,"v":3.47},{"x":8.875,"y":-11.375,"v":3.72},{"x":9.125,"y":-11.375,"v":3.97},{"x":9.375,"y":-11.375,"v":4.22},{"x":9.625,"y":-11.375,"v":4.47},{"x":9.875,"y":-11.375,"v":4.72},
{"x":5.125,"y":-11.625,"v":-0.18},{"x":5.375,"y":-11.625,"v":0.07},{"x":5.625,"y":-11.625,"v":0.32},{"x":5.875,"y":-11.625,"v":0.57},{"x":6.125,"y":-11.625,"v":0.82},{"x":6.375,"y":-11.625,"v":1.07},{"x":6.625,"y":-11.625,"v":1.32},{"x":6.875,"y":-11.625,"v":1.57},{"x":7.125,"y":-11.625,"v":1.82},{"x":7.375,"y":-11.625,"v":2.07},{"x":7.625,"y":-11.625,"v":2.32},{"x":7.875,"y":-11.625,"v":2.57},{"x":8.125,"y":-11.625,"v":2.82},{"x":8.375,"y":-11.625,"v":3.07},{"x":8.625,"y":-11.625,"v":3.32},{"x":8.875,"y":-11.625,"v":3.57},{"x":9.125,"y":-11.625,"v":3.82},{"x":9.375,"y":-11.625,"v":4.07},{"x":9.625,"y":-11.625,"v":4.32},{"x":9.875,"y":-11.625,"v":4.57},
{"x":5.125,"y":-11.875,"v":-0.36},{"x":5.375,"y":-11.875,"v":-0.11},{"x":5.625,"y":-11.875,"v":0.14},{"x":5.875,"y":-11.875,"v":0.39},{"x":6.125,"y":-11.875,"v":0.64},{"x":6.375,"y":-11.875,"v":0.89},{"x":6.625,"y":-11.875,"v":1.14},{"x":6.875,"y":-11.875,"v":1.39},{"x":7.125,"y":-11.875,"v":1.64},{"x":7.375,"y":-11.875,"v":1.89},{"x":7.625,"y":-11.875,"v":2.14},{"x":7.875,"y":-11.875,"v":2.39},{"x":8.125,"y":-11.875,"v":2.64},{"x":8.375,"y":-11.875,"v":2.89},{"x":8.625,"y":-11.875,"v":3.14},{"x":8.875,"y":-11.875,"v":3.39},{"x":9.125,"y":-11.875,"v":3.64},{"x":9.375,"y":-11.875,"v":3.89},{"x":9.625,"y":-11.875,"v":4.14},{"x":9.875,"y":-11.875,"v":4.39},
{"x":5.125,"y":-12.125,"v":-0.56},{"x":5.375,"y":-12.125,"v":-0.31},{"x":5.625,"y":-12.125,"v":-0.06},{"x":5.875,"y":-12.125,"v":0.19},{"x":6.125,"y":-12.125,"v":0.44},{"x":6.375,"y":-12.125,"v":0.69},{"x":6.625,"y":-12.125,"v":0.94},{"x":6.875,"y":-12.125,"v":1.19},{"x":7.125,"y":-12.125,"v":1.44},{"x":7.375,"y":-12.125,"v":1.69},{"x":7.625,"y":-12.125,"v":1.94},{"x":7.875,"y":-12.125,"v":2.19},{"x":8.125,"y":-12.125,"v":2.44},{"x":8.375,"y":-12.125,"v":2.69},{"x":8.625,"y":-12.125,"v":2.94},{"x":8.875,"y":-12.125,"v":3.19},{"x":9.125,"y":-12.125,"v":3.44},{"x":9.375,"y":-12.125,"v":3.69},{"x":9.625,"y":-12.125,"v":3.94},{"x":9.875,"y":-12.125,"v":4.19},
{"x":5.125,"y":-12.375,"v":-0.79},{"x":5.375,"y":-12.375,"v":-0.54},{"x":5.625,"y":-12.375,"v":-0.29},{"x":5.875,"y":-12.375,"v":-0.04},{"x":6.125,"y":-12.375,"v":0.21},{"x":6.375,"y":-12.375,"v":0.46},{"x":6.625,"y":-12.375,"v":0.71},{"x":6.875,"y":-12.375,"v":0.96},{"x":7.125,"y":-12.375,"v":1.21},{"x":7.375,"y":-12.375,"v":1.46},{"x":7.625,"y":-12.375,"v":1.71},{"x":7.875,"y":-12.375,"v":1.96},{"x":8.125,"y":-12.375,"v":2.21},{"x":8.375,"y":-12.375,"v":2.46},{"x":8.625,"y":-12.375,"v":2.71},{"x":8.875,"y":-12.375,"v":2.96},{"x":9.125,"y":-12.375,"v":3.21},{"x":9.375,"y":-12.375,"v":3.46},{"x":9.625,"y":-12.375,"v":3.71},{"x":9.875,"y":-12.375,"v":3.96},
{"x":5.125,"y":-12.625,"v":-1.05},{"x":5.375,"y":-12.625,"v":-0.8},{"x":5.625,"y":-12.625,"v":-0.55},{"x":5.875,"y":-12.625,"v":-0.3},{"x":6.125,"y":-12.625,"v":-0.05},{"x":6.375,"y":-12.625,"v":0.2},{"x":6.625,"y":-12.625,"v":0.45},{"x":6.875,"y":-12.625,"v":0.7},{"x":7.125,"y":-12.625,"v":0.95},{"x":7.375,"y":-12.625,"v":1.2},{"x":7.625,"y":-12.625,"v":1.45},{"x":7.875,"y":-12.625,"v":1.7},{"x":8.125,"y":-12.625,"v":1.95},{"x":8.375,"y":-12.625,"v":2.2},{"x":8.625,"y":-12.625,"v":2.45},{"x":8.875,"y":-12.625,"v":2.7},{"x":9.125,"y":-12.625,"v":2.95},{"x":9.375,"y":-12.625,"v":3.2},{"x":9.625,"y":-12.625,"v":3.45},{"x":9.875,"y":-12.625,"v":3.7},
{"x":5.125,"y":-12.875,"v":-1.31},{"x":5.375,"y":-12.875,"v":-1.06},{"x":5.625,"y":-12.875,"v":-0.81},{"x":5.875,"y":-12.875,"v":-0.56},{"x":6.125,"y":-12.875,"v":-0.31},{"x":6.375,"y":-12.875,"v":-0.06},{"x":6.625,"y":-12.875,"v":0.19},{"x":6.875,"y":-12.875,"v":0.44},{"x":7.125,"y":-12.875,"v":0.69},{"x":7.375,"y":-12.875,"v":0.94},{"x":7.625,"y":-12.875,"v":1.19},{"x":7.875,"y":-12.875,"v":1.44},{"x":8.125,"y":-12.875,"v":1.69},{"x":8.375,"y":-12.875,"v":1.94},{"x":8.625,"y":-12.875,"v":2.19},{"x":8.875,"y":-12.875,"v":2.44},{"x":9.125,"y":-12.875,"v":2.69},{"x":9.375,"y":-12.875,"v":2.94},{"x":9.625,"y":-12.875,"v":3.19},{"x":9.875,"y":-12.875,"v":3.44}
],
"cT":[
{"c":1,"x":4.66,"y":-12.625},{"c":1,"x":5.03,"y":-13},
{"c":2,"x":4.79,"y":-12.25},{"c":2,"x":5.16,"y":-12.625},{"c":2,"x":5.53,"y":-13},
{"c":3,"x":4.92,"y":-11.875},{"c":3,"x":5.29,"y":-12.25},{"c":3,"x":5.66,"y":-12.625},{"c":3,"x":6.03,"y":-13},
{"c":4,"x":4.95,"y":-11.375},{"c":4,"x":5.18,"y":-11.625},{"c":4,"x":5.42,"y":-11.875},{"c":4,"x":5.79,"y":-12.25},{"c":4,"x":6.16,"y":-12.625},{"c":4,"x":6.53,"y":-13},
{"c":5,"x":4.88,"y":-10.625},{"c":5,"x":5.04,"y":-10.875},{"c":5,"x":5.24,"y":-11.125},{"c":5,"x":5.45,"y":-11.375},{"c":5,"x":5.68,"y":-11.625},{"c":5,"x":5.92,"y":-11.875},{"c":5,"x":6.29,"y":-12.25},{"c":5,"x":6.66,"y":-12.625},{"c":5,"x":7.03,"y":-13},
{"c":6,"x":4.99,"y":-9},{"c":6,"x":5.03,"y":-9.5},{"c":6,"x":5.08,"y":-9.875},{"c":6,"x":5.15,"y":-10.125},{"c":6,"x":5.25,"y":-10.375},{"c":6,"x":5.38,"y":-10.625},{"c":6,"x":5.54,"y":-10.875},{"c":6,"x":5.74,"y":-11.125},{"c":6,"x":5.95,"y":-11.375},{"c":6,"x":6.18,"y":-11.625},{"c":6,"x":6.42,"y":-11.875},{"c":6,"x":6.79,"y":-12.25},{"c":6,"x":7.16,"y":-12.625},{"c":6,"x":7.53,"y":-13},
{"c":7,"x":5.48,"y":-8},{"c":7,"x":5.5,"y":-9},{"c":7,"x":5.53,"y":-9.5},{"c":7,"x":5.58,"y":-9.875},{"c":7,"x":5.65,"y":-10.125},{"c":7,"x":5.75,"y":-10.375},{"c":7,"x":5.88,"y":-10.625},{"c":7,"x":6.04,"y":-10.875},{"c":7,"x":6.24,"y":-11.125},{"c":7,"x":6.45,"y":-11.375},{"c":7,"x":6.68,"y":-11.625},{"c":7,"x":6.92,"y":-11.875},{"c":7,"x":7.29,"y":-12.25},{"c":7,"x":7.66,"y":-12.625},{"c":7,"x":8.03,"y":-13},
{"c":8,"x":5.98,"y":-8},{"c":8,"x":6.0,"y":-9},{"c":8,"x":6.03,"y":-9.5},{"c":8,"x":6.08,"y":-9.875},{"c":8,"x":6.15,"y":-10.125},{"c":8,"x":6.25,"y":-10.375},{"c":8,"x":6.38,"y":-10.625},{"c":8,"x":6.54,"y":-10.875},{"c":8,"x":6.74,"y":-11.125},{"c":8,"x":6.95,"y":-11.375},{"c":8,"x":7.18,"y":-11.625},{"c":8,"x":7.42,"y":-11.875},{"c":8,"x":7.79,"y":-12.25},{"c":8,"x":8.16,"y":-12.625},{"c":8,"x":8.53,"y":-13},
{"c":9,"x":6.48,"y":-8},{"c":9,"x":6.5,"y":-9},{"c":9,"x":6.53,"y":-9.5},{"c":9,"x":6.58,"y":-9.875},{"c":9,"x":6.65,"y":-10.125},{"c":9,"x":6.75,"y":-10.375},{"c":9,"x":6.88,"y":-10.625},{"c":9,"x":7.04,"y":-10.875},{"c":9,"x":7.24,"y":-11.125},{"c":9,"x":7.45,"y":-11.375},{"c":9,"x":7.68,"y":-11.625},{"c":9,"x":7.92,"y":-11.875},{"c":9,"x":8.29,"y":-12.25},{"c":9,"x":8.66,"y":-12.625},{"c":9,"x":9.03,"y":-13},
{"c":10,"x":6.98,"y":-8},{"c":10,"x":7.0,"y":-9},{"c":10,"x":7.03,"y":-9.5},{"c":10,"x":7.08,"y":-9.875},{"c":10,"x":7.15,"y":-10.125},{"c":10,"x":7.25,"y":-10.375},{"c":10,"x":7.38,"y":-10.625},{"c":10,"x":7.54,"y":-10.875},{"c":10,"x":7.74,"y":-11.125},{"c":10,"x":7.95,"y":-11.375},{"c":10,"x":8.18,"y":-11.625},{"c":10,"x":8.42,"y":-11.875},{"c":10,"x":8.79,"y":-12.25},{"c":10,"x":9.16,"y":-12.625},{"c":10,"x":9.53,"y":-13},
{"c":11,"x":7.48,"y":-8},{"c":11,"x":7.5,"y":-9},{"c":11,"x":7.53,"y":-9.5},{"c":11,"x":7.58,"y":-9.875},{"c":11,"x":7.65,"y":-10.125},{"c":11,"x":7.75,"y":-10.375},{"c":11,"x":7.88,"y":-10.625},{"c":11,"x":8.04,"y":-10.875},{"c":11,"x":8.24,"y":-11.125},{"c":11,"x":8.45,"y":-11.375},{"c":11,"x":8.68,"y":-11.625},{"c":11,"x":8.92,"y":-11.875},{"c":11,"x":9.29,"y":-12.25},{"c":11,"x":9.66,"y":-12.625},{"c":11,"x":10.03,"y":-13},
{"c":12,"x":7.98,"y":-8},{"c":12,"x":8.0,"y":-9},{"c":12,"x":8.03,"y":-9.5},{"c":12,"x":8.08,"y":-9.875},{"c":12,"x":8.15,"y":-10.125},{"c":12,"x":8.25,"y":-10.375},{"c":12,"x":8.38,"y":-10.625},{"c":12,"x":8.54,"y":-10.875},{"c":12,"x":8.74,"y":-11.125},{"c":12,"x":8.95,"y":-11.375},{"c":12,"x":9.18,"y":-11.625},{"c":12,"x":9.42,"y":-11.875},{"c":12,"x":9.79,"y":-12.25},{"c":12,"x":10.16,"y":-12.625},
{"c":13,"x":8.48,"y":-8},{"c":13,"x":8.5,"y":-9},{"c":13,"x":8.53,"y":-9.5},{"c":13,"x":8.58,"y":-9.875},{"c":13,"x":8.65,"y":-10.125},{"c":13,"x":8.75,"y":-10.375},{"c":13,"x":8.88,"y":-10.625},{"c":13,"x":9.04,"y":-10.875},{"c":13,"x":9.24,"y":-11.125},{"c":13,"x":9.45,"y":-11.375},{"c":13,"x":9.68,"y":-11.625},{"c":13,"x":9.92,"y":-11.875},{"c":13,"x":10.29,"y":-12.25},
{"c":14,"x":8.98,"y":-8},{"c":14,"x":9.0,"y":-9},{"c":14,"x":9.03,"y":-9.5},{"c":14,"x":9.08,"y":-9.875},{"c":14,"x":9.15,"y":-10.125},{"c":14,"x":9.25,"y":-10.375},{"c":14,"x":9.38,"y":-10.625},{"c":14,"x":9.54,"y":-10.875},{"c":14,"x":9.74,"y":-11.125},{"c":14,"x":9.95,"y":-11.375},{"c":14,"x":10.18,"y":-11.625},
{"c":15,"x":9.48,"y":-8},{"c":15,"x":9.5,"y":-9},{"c":15,"x":9.53,"y":-9.5},{"c":15,"x":9.58,"y":-9.875},{"c":15,"x":9.65,"y":-10.125},{"c":15,"x":9.75,"y":-10.375},{"c":15,"x":9.88,"y":-10.625},{"c":15,"x":10.04,"y":-10.875}
],
"cP":[
{"c":1,"x":5.45,"y":-8},{"c":1,"x":4.91,"y":-8.5},
{"c":2,"x":5.95,"y":-8},{"c":2,"x":5.41,"y":-8.5},{"c":2,"x":4.82,"y":-9},
{"c":22,"x":4.6,"y":-12.5},{"c":22,"x":5.12,"y":-13},
{"c":3,"x":6.45,"y":-8},{"c":3,"x":5.91,"y":-8.5},{"c":3,"x":5.32,"y":-9},{"c":3,"x":4.74,"y":-9.5},
{"c":33,"x":4.64,"y":-12},{"c":33,"x":5.1,"y":-12.5},{"c":33,"x":5.62,"y":-13},
{"c":4,"x":6.95,"y":-8},{"c":4,"x":6.41,"y":-8.5},{"c":4,"x":5.82,"y":-9},{"c":4,"x":5.24,"y":-9.5},{"c":4,"x":4.81,"y":-9.875},
{"c":44,"x":4.86,"y":-11.625},{"c":44,"x":5.14,"y":-12},{"c":44,"x":5.6,"y":-12.5},{"c":44,"x":6.12,"y":-13},
{"c":5,"x":7.45,"y":-8},{"c":5,"x":6.91,"y":-8.5},{"c":5,"x":6.32,"y":-9},{"c":5,"x":5.74,"y":-9.5},{"c":5,"x":5.31,"y":-9.875},{"c":5,"x":5.13,"y":-10.125},{"c":5,"x":5.03,"y":-10.375},{"c":5,"x":4.98,"y":-10.625},{"c":5,"x":5.01,"y":-10.875},{"c":5,"x":5.09,"y":-11.125},{"c":5,"x":5.21,"y":-11.375},{"c":5,"x":5.36,"y":-11.625},{"c":5,"x":5.64,"y":-12},{"c":5,"x":6.1,"y":-12.5},{"c":5,"x":6.62,"y":-13},
{"c":6,"x":7.95,"y":-8},{"c":6,"x":7.41,"y":-8.5},{"c":6,"x":6.82,"y":-9},{"c":6,"x":6.24,"y":-9.5},{"c":6,"x":5.81,"y":-9.875},{"c":6,"x":5.63,"y":-10.125},{"c":6,"x":5.53,"y":-10.375},{"c":6,"x":5.48,"y":-10.625},{"c":6,"x":5.51,"y":-10.875},{"c":6,"x":5.59,"y":-11.125},{"c":6,"x":5.71,"y":-11.375},{"c":6,"x":5.86,"y":-11.625},{"c":6,"x":6.14,"y":-12},{"c":6,"x":6.6,"y":-12.5},{"c":6,"x":7.12,"y":-13},
{"c":7,"x":8.45,"y":-8},{"c":7,"x":7.91,"y":-8.5},{"c":7,"x":7.32,"y":-9},{"c":7,"x":6.74,"y":-9.5},{"c":7,"x":6.31,"y":-9.875},{"c":7,"x":6.13,"y":-10.125},{"c":7,"x":6.03,"y":-10.375},{"c":7,"x":5.98,"y":-10.625},{"c":7,"x":6.01,"y":-10.875},{"c":7,"x":6.09,"y":-11.125},{"c":7,"x":6.21,"y":-11.375},{"c":7,"x":6.36,"y":-11.625},{"c":7,"x":6.64,"y":-12},{"c":7,"x":7.1,"y":-12.5},{"c":7,"x":7.62,"y":-13},
{"c":8,"x":8.95,"y":-8},{"c":8,"x":8.41,"y":-8.5},{"c":8,"x":7.82,"y":-9},{"c":8,"x":7.24,"y":-9.5},{"c":8,"x":6.81,"y":-9.875},{"c":8,"x":6.63,"y":-10.125},{"c":8,"x":6.53,"y":-10.375},{"c":8,"x":6.48,"y":-10.625},{"c":8,"x":6.51,"y":-10.875},{"c":8,"x":6.59,"y":-11.125},{"c":8,"x":6.71,"y":-11.375},{"c":8,"x":6.86,"y":-11.625},{"c":8,"x":7.14,"y":-12},{"c":8,"x":7.6,"y":-12.5},{"c":8,"x":8.12,"y":-13},
{"c":9,"x":9.45,"y":-8},{"c":9,"x":8.91,"y":-8.5},{"c":9,"x":8.32,"y":-9},{"c":9,"x":7.74,"y":-9.5},{"c":9,"x":7.31,"y":-9.875},{"c":9,"x":7.13,"y":-10.125},{"c":9,"x":7.03,"y":-10.375},{"c":9,"x":6.98,"y":-10.625},{"c":9,"x":7.01,"y":-10.875},{"c":9,"x":7.09,"y":-11.125},{"c":9,"x":7.21,"y":-11.375},{"c":9,"x":7.36,"y":-11.625},{"c":9,"x":7.64,"y":-12},{"c":9,"x":8.1,"y":-12.5},{"c":9,"x":8.62,"y":-13},
{"c":10,"x":9.95,"y":-8},{"c":10,"x":9.41,"y":-8.5},{"c":10,"x":8.82,"y":-9},{"c":10,"x":8.24,"y":-9.5},{"c":10,"x":7.81,"y":-9.875},{"c":10,"x":7.63,"y":-10.125},{"c":10,"x":7.53,"y":-10.375},{"c":10,"x":7.48,"y":-10.625},{"c":10,"x":7.51,"y":-10.875},{"c":10,"x":7.59,"y":-11.125},{"c":10,"x":7.71,"y":-11.375},{"c":10,"x":7.86,"y":-11.625},{"c":10,"x":8.14,"y":-12},{"c":10,"x":8.6,"y":-12.5},{"c":10,"x":9.12,"y":-13},
{"c":11,"x":10.45,"y":-8},{"c":11,"x":9.91,"y":-8.5},{"c":11,"x":9.32,"y":-9},{"c":11,"x":8.74,"y":-9.5},{"c":11,"x":8.31,"y":-9.875},{"c":11,"x":8.13,"y":-10.125},{"c":11,"x":8.03,"y":-10.375},{"c":11,"x":7.98,"y":-10.625},{"c":11,"x":8.01,"y":-10.875},{"c":11,"x":8.09,"y":-11.125},{"c":11,"x":8.21,"y":-11.375},{"c":11,"x":8.36,"y":-11.625},{"c":11,"x":8.64,"y":-12},{"c":11,"x":9.1,"y":-12.5},{"c":11,"x":9.62,"y":-13},
{"c":12,"x":10.41,"y":-8.5},{"c":12,"x":9.82,"y":-9},{"c":12,"x":9.24,"y":-9.5},{"c":12,"x":8.81,"y":-9.875},{"c":12,"x":8.63,"y":-10.125},{"c":12,"x":8.53,"y":-10.375},{"c":12,"x":8.48,"y":-10.625},{"c":12,"x":8.51,"y":-10.875},{"c":12,"x":8.59,"y":-11.125},{"c":12,"x":8.71,"y":-11.375},{"c":12,"x":8.86,"y":-11.625},{"c":12,"x":9.14,"y":-12},{"c":12,"x":9.6,"y":-12.5},{"c":12,"x":10.12,"y":-13},
{"c":13,"x":10.32,"y":-9},{"c":13,"x":9.74,"y":-9.5},{"c":13,"x":9.31,"y":-9.875},{"c":13,"x":9.13,"y":-10.125},{"c":13,"x":9.03,"y":-10.375},{"c":13,"x":8.98,"y":-10.625},{"c":13,"x":9.01,"y":-10.875},{"c":13,"x":9.09,"y":-11.125},{"c":13,"x":9.21,"y":-11.375},{"c":13,"x":9.36,"y":-11.625},{"c":13,"x":9.64,"y":-12},{"c":13,"x":10.1,"y":-12.5},
{"c":14,"x":10.24,"y":-9.5},{"c":14,"x":9.81,"y":-9.875},{"c":14,"x":9.63,"y":-10.125},{"c":14,"x":9.53,"y":-10.375},{"c":14,"x":9.48,"y":-10.625},{"c":14,"x":9.51,"y":-10.875},{"c":14,"x":9.59,"y":-11.125},{"c":14,"x":9.71,"y":-11.375},{"c":14,"x":9.86,"y":-11.625},{"c":14,"x":10.14,"y":-12}
]
},
"hconcat":[
{"bounds":"flush","spacing":66,"resolve":{"scale":{"color":"independent"},"legend":{"color":"independent"}},"vconcat":[
{"width":283,"height":283,"view":{"stroke":"#c8c8c8"},"resolve":{"axis":{"x":"independent","y":"independent"}},
"layer":[
{"data":{"name":"hT"},"mark":{"type":"rect","width":14.8,"height":14.8,"clip":true},
"encoding":{
"x":{"field":"x","type":"quantitative","scale":{"domain":[5,10],"nice":false,"zero":false},"axis":{"values":[5,6,7,8,9,10],"labelExpr":"['10⁵','10⁶','10⁷','10⁸','10⁹','10¹⁰'][round(datum.value)-5]","title":"I, W/cm²","domain":false,"tickSize":4,"tickColor":"#aaaaaa","labelFontSize":14,"labelColor":"#333333","labelPadding":5,"titleFontSize":13,"titleFontWeight":"normal","titleColor":"#333333","titlePadding":3}},
"y":{"field":"y","type":"quantitative","scale":{"domain":[-13,-8],"nice":false,"zero":false},"axis":{"values":[-13,-12,-11,-10,-9,-8],"labelExpr":"['10⁻¹³','10⁻¹²','10⁻¹¹','10⁻¹⁰','10⁻⁹','10⁻⁸'][round(datum.value)+13]","title":"tₚ, sec","domain":false,"tickSize":4,"tickColor":"#aaaaaa","labelFontSize":14,"labelColor":"#333333","labelPadding":5,"titleFontSize":13,"titleFontWeight":"normal","titleColor":"#333333","titlePadding":3}},
"color":{"field":"v","type":"quantitative","scale":{"domain":[-2.71,-2,-1,0,1,2,3,4,4.84],"range":["#2c46df","#5283e6","#8ec4f1","#c2e8f6","#eef9f7","#f8efbe","#f3cb80","#e89c58","#d95a2e"],"interpolate":"rgb"},
"legend":{"orient":"none","legendX":310,"legendY":43,"direction":"vertical","title":null,"gradientLength":223,"gradientThickness":12,"gradientStrokeWidth":0,"values":[-2,-1,0,1,2,3,4],"labelExpr":"format(pow(10, datum.value), '.2f')","labelFontStyle":"italic","labelFontSize":12,"labelColor":"#333333","labelOffset":8,"labelOverlap":false}}
}},
{"data":{"name":"cT"},"mark":{"type":"line","clip":true,"stroke":"#333333","strokeWidth":0.8,"opacity":0.55},
"encoding":{"x":{"field":"x","type":"quantitative","scale":{"domain":[5,10],"nice":false,"zero":false},"axis":null},"y":{"field":"y","type":"quantitative","scale":{"domain":[-13,-8],"nice":false,"zero":false},"axis":null},"detail":{"field":"c","type":"nominal"},"order":{"field":"y","type":"quantitative"}}},
{"data":{"values":[{"t":"(a)","x":3.834,"y":-8.141},{"t":"(c)","x":12.014,"y":-8.141}]},"mark":{"type":"text","fontSize":24,"align":"center","baseline":"middle","color":"#111111"},
"encoding":{"x":{"field":"x","type":"quantitative","scale":{"domain":[5,10],"nice":false,"zero":false},"axis":null},"y":{"field":"y","type":"quantitative","scale":{"domain":[-13,-8],"nice":false,"zero":false},"axis":null},"text":{"field":"t","type":"nominal"}}},
{"data":{"values":[{"t":"ΔT, K","x":10.795,"y":-8.371}]},"mark":{"type":"text","font":"Liberation Serif","fontSize":27,"align":"center","baseline":"middle","color":"#111111"},
"encoding":{"x":{"field":"x","type":"quantitative","scale":{"domain":[5,10],"nice":false,"zero":false},"axis":null},"y":{"field":"y","type":"quantitative","scale":{"domain":[-13,-8],"nice":false,"zero":false},"axis":null},"text":{"field":"t","type":"nominal"}}}
]},
{"width":283,"height":284,"view":{"stroke":"#c8c8c8"},"resolve":{"axis":{"x":"independent","y":"independent"}},
"layer":[
{"data":{"name":"hP"},"mark":{"type":"rect","width":14.8,"height":14.8,"clip":true},
"encoding":{
"x":{"field":"x","type":"quantitative","scale":{"domain":[5,10],"nice":false,"zero":false},"axis":{"values":[5,6,7,8,9,10],"labelExpr":"['10⁵','10⁶','10⁷','10⁸','10⁹','10¹⁰'][round(datum.value)-5]","title":"I, W/cm²","domain":false,"tickSize":4,"tickColor":"#aaaaaa","labelFontSize":14,"labelColor":"#333333","labelPadding":5,"titleFontSize":13,"titleFontWeight":"normal","titleColor":"#333333","titlePadding":3}},
"y":{"field":"y","type":"quantitative","scale":{"domain":[-13,-8],"nice":false,"zero":false},"axis":{"values":[-13,-12,-11,-10,-9,-8],"labelExpr":"['10⁻¹³','10⁻¹²','10⁻¹¹','10⁻¹⁰','10⁻⁹','10⁻⁸'][round(datum.value)+13]","title":"tₚ, sec","domain":false,"tickSize":4,"tickColor":"#aaaaaa","labelFontSize":14,"labelColor":"#333333","labelPadding":5,"titleFontSize":13,"titleFontWeight":"normal","titleColor":"#333333","titlePadding":3}},
"color":{"field":"v","type":"quantitative","scale":{"domain":[-2.5,-2,-1,0,1,2,3,4,5.3],"range":["#5c0000","#780400","#a81600","#cc2800","#e24600","#f06a08","#f58c14","#f9ae20","#fcd536"],"interpolate":"rgb"},
"legend":{"orient":"none","legendX":310,"legendY":42,"direction":"vertical","title":null,"gradientLength":235,"gradientThickness":12,"gradientStrokeWidth":0,"values":[-2,0,2,4],"labelExpr":"format(pow(10, datum.value), '.2f')","labelFontStyle":"italic","labelFontSize":12,"labelColor":"#333333","labelOffset":8,"labelOverlap":false}}
}},
{"data":{"name":"cP"},"mark":{"type":"line","clip":true,"stroke":"#333333","strokeWidth":0.8,"opacity":0.55},
"encoding":{"x":{"field":"x","type":"quantitative","scale":{"domain":[5,10],"nice":false,"zero":false},"axis":null},"y":{"field":"y","type":"quantitative","scale":{"domain":[-13,-8],"nice":false,"zero":false},"axis":null},"detail":{"field":"c","type":"nominal"},"order":{"field":"y","type":"quantitative"}}},
{"data":{"values":[{"t":"(b)","x":3.834,"y":-8.177}]},"mark":{"type":"text","fontSize":24,"align":"center","baseline":"middle","color":"#111111"},
"encoding":{"x":{"field":"x","type":"quantitative","scale":{"domain":[5,10],"nice":false,"zero":false},"axis":null},"y":{"field":"y","type":"quantitative","scale":{"domain":[-13,-8],"nice":false,"zero":false},"axis":null},"text":{"field":"t","type":"nominal"}}},
{"data":{"values":[{"t":"|ΔP|, bar","x":10.212,"y":-8.283}]},"mark":{"type":"text","fontSize":27,"align":"left","baseline":"middle","color":"#111111"},
"encoding":{"x":{"field":"x","type":"quantitative","scale":{"domain":[5,10],"nice":false,"zero":false},"axis":null},"y":{"field":"y","type":"quantitative","scale":{"domain":[-13,-8],"nice":false,"zero":false},"axis":null},"text":{"field":"t","type":"nominal"}}}
]}
]},
{"bounds":"flush","spacing":20,"vconcat":[
{"width":569,"height":4,"data":{"values":[{"k":""}]},"mark":{"type":"text"},"encoding":{"text":{"field":"k","type":"nominal"}}},
{"width":569,"height":569,"view":{"stroke":"#111111","strokeWidth":1.8},
"resolve":{"axis":{"x":"independent","y":"independent"}},
"layer":[
{"data":{"values":[{"x":6.37,"y":-7.98},{"x":6.385,"y":-8.5},{"x":6.4,"y":-9.0},{"x":6.43,"y":-9.5},{"x":6.46,"y":-9.8},{"x":6.5,"y":-10.0},{"x":6.55,"y":-10.2},{"x":6.62,"y":-10.4},{"x":6.72,"y":-10.6},{"x":6.85,"y":-10.8},{"x":7.01,"y":-11.0},{"x":7.19,"y":-11.2},{"x":7.42,"y":-11.45},{"x":7.66,"y":-11.72},{"x":7.91,"y":-12.0},{"x":8.16,"y":-12.28},{"x":8.42,"y":-12.55},{"x":8.66,"y":-12.82},{"x":8.88,"y":-13.0}]},
"mark":{"type":"line","stroke":"#f9ee14","strokeWidth":8,"strokeCap":"butt","interpolate":"catmull-rom"},
"encoding":{
"x":{"field":"x","type":"quantitative","scale":{"domain":[4.89,10.1],"nice":false,"zero":false},"axis":{"orient":"bottom","values":[4.903,4.954,5,5.301,5.477,5.602,5.699,5.778,5.845,5.903,5.954,6,6.301,6.477,6.602,6.699,6.778,6.845,6.903,6.954,7,7.301,7.477,7.602,7.699,7.778,7.845,7.903,7.954,8,8.301,8.477,8.602,8.699,8.778,8.845,8.903,8.954,9,9.301,9.477,9.602,9.699,9.778,9.845,9.903,9.954,10],"labelExpr":"abs(datum.value-round(datum.value))<0.001 ? ['10⁵','10⁶','10⁷','10⁸','10⁹','10¹⁰'][round(datum.value)-5] : ''","title":"I, W/cm²","domain":false,"tickSize":-5,"tickColor":"#222222","labelFontSize":14,"labelColor":"#333333","labelPadding":15,"titleFontSize":26,"titleFontWeight":"normal","titleColor":"#111111","titlePadding":12}},
"y":{"field":"y","type":"quantitative","scale":{"domain":[-13.11,-7.9],"nice":false,"zero":false},"axis":{"orient":"left","values":[-13.097,-13.046,-13,-12.699,-12.523,-12.398,-12.301,-12.222,-12.155,-12.097,-12.046,-12,-11.699,-11.523,-11.398,-11.301,-11.222,-11.155,-11.097,-11.046,-11,-10.699,-10.523,-10.398,-10.301,-10.222,-10.155,-10.097,-10.046,-10,-9.699,-9.523,-9.398,-9.301,-9.222,-9.155,-9.097,-9.046,-9,-8.699,-8.523,-8.398,-8.301,-8.222,-8.155,-8.097,-8.046,-8],"labelExpr":"abs(datum.value-round(datum.value))<0.001 ? ['10⁻¹³','10⁻¹²','10⁻¹¹','10⁻¹⁰','10⁻⁹','10⁻⁸'][round(datum.value)+13] : ''","title":"tₚ, sec","domain":false,"tickSize":-5,"tickColor":"#222222","labelFontSize":13,"labelColor":"#333333","labelPadding":10,"titleFontSize":26,"titleFontWeight":"bold","titleColor":"#111111","titlePadding":-4}},
"order":{"field":"y","type":"quantitative"}}},
{"data":{"values":[{"x":6.85,"y":-7.95},{"x":6.865,"y":-8.5},{"x":6.88,"y":-9.0},{"x":6.91,"y":-9.5},{"x":6.94,"y":-9.8},{"x":6.98,"y":-10.0},{"x":7.03,"y":-10.2},{"x":7.1,"y":-10.4},{"x":7.2,"y":-10.6},{"x":7.33,"y":-10.8},{"x":7.49,"y":-11.0},{"x":7.67,"y":-11.2},{"x":7.9,"y":-11.45},{"x":8.14,"y":-11.72},{"x":8.39,"y":-12.0},{"x":8.64,"y":-12.28},{"x":8.9,"y":-12.55},{"x":9.14,"y":-12.82},{"x":9.36,"y":-13.0}]},
"mark":{"type":"line","stroke":"#f4b400","strokeWidth":8,"strokeCap":"butt","interpolate":"catmull-rom"},
"encoding":{"x":{"field":"x","type":"quantitative","scale":{"domain":[4.89,10.1],"nice":false,"zero":false},"axis":null},"y":{"field":"y","type":"quantitative","scale":{"domain":[-13.11,-7.9],"nice":false,"zero":false},"axis":null},"order":{"field":"y","type":"quantitative"}}},
{"data":{"values":[{"x":8.28,"y":-8.01},{"x":7.91,"y":-8.3},{"x":7.53,"y":-8.6},{"x":7.19,"y":-8.88},{"x":6.89,"y":-9.14},{"x":6.61,"y":-9.4},{"x":6.37,"y":-9.65},{"x":6.13,"y":-9.88},{"x":5.96,"y":-10.1},{"x":5.86,"y":-10.3},{"x":5.8,"y":-10.5},{"x":5.77,"y":-10.7},{"x":5.79,"y":-10.9},{"x":5.85,"y":-11.1},{"x":5.95,"y":-11.32},{"x":6.09,"y":-11.55},{"x":6.27,"y":-11.8},{"x":6.47,"y":-12.05},{"x":6.7,"y":-12.31},{"x":6.93,"y":-12.55},{"x":7.17,"y":-12.78},{"x":7.41,"y":-13.0}]},
"mark":{"type":"line","stroke":"#f26331","strokeWidth":8,"strokeCap":"butt","interpolate":"catmull-rom"},
"encoding":{"x":{"field":"x","type":"quantitative","scale":{"domain":[4.89,10.1],"nice":false,"zero":false},"axis":null},"y":{"field":"y","type":"quantitative","scale":{"domain":[-13.11,-7.9],"nice":false,"zero":false},"axis":null},"order":{"field":"y","type":"quantitative"}}},
{"data":{"values":[{"x":5.98,"y":-11.0}]},
"mark":{"type":"point","shape":"M0,-1L0.142,-0.531L0.5,-0.866L0.389,-0.389L0.866,-0.5L0.531,-0.142L1,0L0.531,0.142L0.866,0.5L0.389,0.389L0.5,0.866L0.142,0.531L0,1L-0.142,0.531L-0.5,0.866L-0.389,0.389L-0.866,0.5L-0.531,0.142L-1,0L-0.531,-0.142L-0.866,-0.5L-0.389,-0.389L-0.5,-0.866L-0.142,-0.531Z","size":800,"filled":true,"fill":"#5a5ad6","strokeWidth":0,"opacity":1},
"encoding":{
"x":{"field":"x","type":"quantitative","scale":{"domain":[4.89,10.1],"nice":false,"zero":false},"axis":{"orient":"top","values":[4.903,4.954,5,5.301,5.477,5.602,5.699,5.778,5.845,5.903,5.954,6,6.301,6.477,6.602,6.699,6.778,6.845,6.903,6.954,7,7.301,7.477,7.602,7.699,7.778,7.845,7.903,7.954,8,8.301,8.477,8.602,8.699,8.778,8.845,8.903,8.954,9,9.301,9.477,9.602,9.699,9.778,9.845,9.903,9.954,10],"labels":false,"title":null,"domain":false,"tickSize":-5,"tickColor":"#222222"}},
"y":{"field":"y","type":"quantitative","scale":{"domain":[-13.11,-7.9],"nice":false,"zero":false},"axis":{"orient":"right","values":[-13.097,-13.046,-13,-12.699,-12.523,-12.398,-12.301,-12.222,-12.155,-12.097,-12.046,-12,-11.699,-11.523,-11.398,-11.301,-11.222,-11.155,-11.097,-11.046,-11,-10.699,-10.523,-10.398,-10.301,-10.222,-10.155,-10.097,-10.046,-10,-9.699,-9.523,-9.398,-9.301,-9.222,-9.155,-9.097,-9.046,-9,-8.699,-8.523,-8.398,-8.301,-8.222,-8.155,-8.097,-8.046,-8],"labels":false,"title":null,"domain":false,"tickSize":-5,"tickColor":"#222222"}}}},
{"data":{"values":[{"t":"Low\ntemperature\nphotothermal\neffect","x":5.68,"y":-8.504},{"t":"Photoacoustic\neffect","x":5.6,"y":-11.966},{"t":"Cold\nphotoacoustic\ndestruction","x":7.23,"y":-11.81}]},
"mark":{"type":"text","fontSize":21,"lineBreak":"\n","lineHeight":24.5,"align":"center","baseline":"middle","color":"#111111"},
"encoding":{"x":{"field":"x","type":"quantitative","scale":{"domain":[4.89,10.1],"nice":false,"zero":false},"axis":null},"y":{"field":"y","type":"quantitative","scale":{"domain":[-13.11,-7.9],"nice":false,"zero":false},"axis":null},"text":{"field":"t","type":"nominal"}}},
{"data":{"values":[{"t":"Hyperthermia","x":8.76,"y":-8.85},{"t":"Photothermoacoustics","x":8.95,"y":-11.19}]},
"mark":{"type":"text","fontSize":21.5,"align":"center","baseline":"middle","color":"#111111"},
"encoding":{"x":{"field":"x","type":"quantitative","scale":{"domain":[4.89,10.1],"nice":false,"zero":false},"axis":null},"y":{"field":"y","type":"quantitative","scale":{"domain":[-13.11,-7.9],"nice":false,"zero":false},"axis":null},"text":{"field":"t","type":"nominal"}}},
{"data":{"values":[{"t":"ΔP","x":7.141,"y":-8.591}]},
"mark":{"type":"text","font":"Liberation Serif","fontSize":23,"fontStyle":"italic","angle":-37,"align":"left","baseline":"middle","color":"#111111"},
"encoding":{"x":{"field":"x","type":"quantitative","scale":{"domain":[4.89,10.1],"nice":false,"zero":false},"axis":null},"y":{"field":"y","type":"quantitative","scale":{"domain":[-13.11,-7.9],"nice":false,"zero":false},"axis":null},"text":{"field":"t","type":"nominal"}}},
{"data":{"values":[{"t":"= -7 bar","x":7.389,"y":-8.403}]},
"mark":{"type":"text","font":"Liberation Serif","fontSize":23,"angle":-37,"align":"left","baseline":"middle","color":"#111111"},
"encoding":{"x":{"field":"x","type":"quantitative","scale":{"domain":[4.89,10.1],"nice":false,"zero":false},"axis":null},"y":{"field":"y","type":"quantitative","scale":{"domain":[-13.11,-7.9],"nice":false,"zero":false},"axis":null},"text":{"field":"t","type":"nominal"}}},
{"data":{"values":[{"t":"ΔT =20 K","x":8.26,"y":-12.65},{"t":"ΔT =60 K","x":9.1,"y":-12.53}]},
"mark":{"type":"text","fontSize":22,"angle":42,"align":"center","baseline":"middle","color":"#111111"},
"encoding":{"x":{"field":"x","type":"quantitative","scale":{"domain":[4.89,10.1],"nice":false,"zero":false},"axis":null},"y":{"field":"y","type":"quantitative","scale":{"domain":[-13.11,-7.9],"nice":false,"zero":false},"axis":null},"text":{"field":"t","type":"nominal"}}}
]}
]}
]
}
